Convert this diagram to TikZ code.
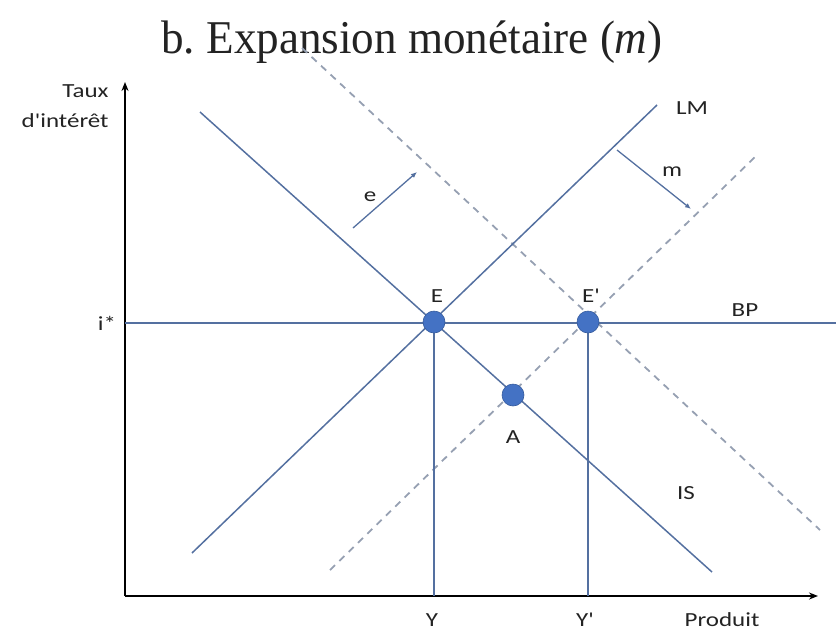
\documentclass[tikz,border=0pt]{standalone}
\usepackage{fontspec}
\setmainfont{Liberation Serif}
\newfontfamily\labelfont{Carlito}
\usetikzlibrary{arrows.meta}
\definecolor{curveblue}{RGB}{84,112,160}
\definecolor{shiftgray}{RGB}{150,160,178}
\definecolor{dotblue}{RGB}{68,114,196}
\definecolor{textgray}{RGB}{35,35,35}
\begin{document}
\begin{tikzpicture}[x=1pt,y=-1pt,
    axisline/.style={black,line width=1.6pt},
    curve/.style={curveblue,line width=1.5pt},
    shifted/.style={shiftgray,line width=1.8pt,dash pattern=on 7pt off 6pt},
    shiftarrow/.style={curveblue,line width=1.3pt,-{Latex[length=6pt,width=5pt]}},
    eqpoint/.style={circle,fill=dotblue,draw=dotblue!80!black,line width=0.6pt,minimum size=22pt,inner sep=0pt},
    lbl/.style={text=textgray,xscale=1.25,font=\labelfont\fontsize{20}{30}\selectfont}]
    \useasboundingbox (0,0) rectangle (836,633);
    % title
    \node[anchor=base,text=textgray,xscale=0.96,font=\fontsize{47}{54}\selectfont] (title) at (412,53) {b.\ Expansion monétaire (\textit{m})};
    % axes
    \coordinate (origin) at (125,596);
    \coordinate (ytop) at (125,82);
    \coordinate (xend) at (818,596);
    \draw[axisline,-{Stealth[length=9pt,width=7pt]}] (origin) -- (ytop);
    \draw[axisline,-{Stealth[length=9pt,width=7pt]}] (origin) -- (xend);
    \node[lbl,align=right,anchor=east] (ylabel) at (113,106) {Taux\\d'intérêt};
    \node[lbl] (xlabel) at (722,620) {Produit};
    % equilibrium points
    \coordinate (E) at (434,322);
    \coordinate (Ep) at (588,322);
    \coordinate (A) at (513,395);
    % curves
    \coordinate (IS-top) at (200,112);
    \coordinate (IS-bot) at (712,572);
    \coordinate (LM-bot) at (192,553);
    \coordinate (LM-top) at (657,105);
    \coordinate (LMp-bot) at (330,570);
    \coordinate (LMp-top) at (757,155);
    \coordinate (ISp-top) at (302,48);
    \coordinate (ISp-bot) at (820,530);
    \coordinate (BP-left) at (125,323);
    \coordinate (BP-right) at (836,323);
    \draw[shifted] (ISp-top) -- (ISp-bot);
    \draw[shifted] (LMp-bot) -- (LMp-top);
    \draw[curve] (IS-top) -- (IS-bot);
    \draw[curve] (LM-bot) -- (LM-top);
    \draw[curve] (BP-left) -- (BP-right);
    \draw[curve] (E) -- (E |- origin);
    \draw[curve] (Ep) -- (Ep |- origin);
    % shifts
    \coordinate (e-from) at (353,228);
    \coordinate (e-to) at (417,172);
    \coordinate (m-from) at (617,150);
    \coordinate (m-to) at (691,209);
    \draw[shiftarrow] (e-from) -- (e-to);
    \draw[shiftarrow] (m-from) -- (m-to);
    \node[eqpoint] (Edot) at (E) {};
    \node[eqpoint] (Epdot) at (Ep) {};
    \node[eqpoint] (Adot) at (A) {};
    % labels
    \node[lbl] (Elabel) at (437,296) {E};
    \node[lbl] (Eplabel) at (591,296) {E'};
    \node[lbl] (Alabel) at (513,437) {A};
    \node[lbl] (LMlabel) at (692,108) {LM};
    \node[lbl] (BPlabel) at (745,310) {BP};
    \node[lbl] (ISlabel) at (686,493) {IS};
    \node[lbl] (elabel) at (370,197) {e};
    \node[lbl] (mlabel) at (672,172) {m};
    \node[lbl] (istar) at (107,323) {i*};
    \node[lbl] (Ylabel) at (432,620) {Y};
    \node[lbl] (Yplabel) at (585,620) {Y'};
\end{tikzpicture}
\end{document}
